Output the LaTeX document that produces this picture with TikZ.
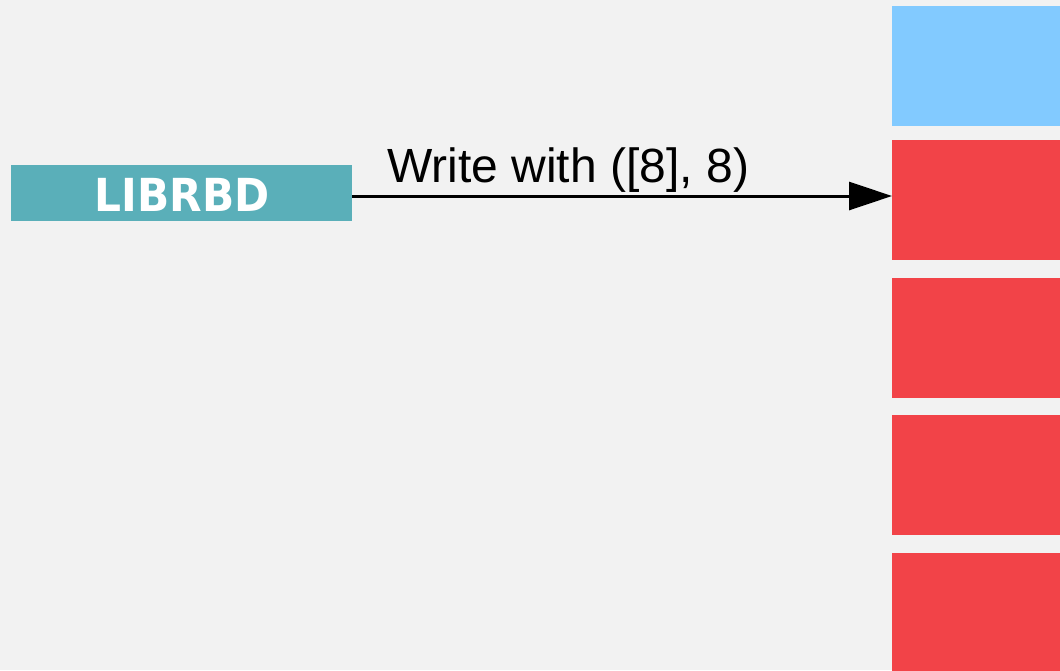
\documentclass[tikz,border=0pt]{standalone}
\usepackage{fontspec}
\setmainfont{Liberation Sans}
\newfontfamily\labfont{DejaVu Sans}
\usetikzlibrary{arrows.meta}
\definecolor{bgc}{HTML}{F2F2F2}
\definecolor{tealc}{HTML}{5AAFB9}
\definecolor{bluec}{HTML}{82CAFF}
\definecolor{redc}{HTML}{F24348}
\begin{document}
\begin{tikzpicture}[x=1pt,y=-1pt,
  block/.style={draw=none,inner sep=0pt,outer sep=0pt,anchor=north west,minimum width=180pt},
  obj/.style={block,fill=redc,minimum height=119.5pt},
  conn/.style={line width=3pt,-{Triangle[length=43pt,width=28pt]}}]
\useasboundingbox (0,0) rectangle (1060,670);
\fill[bgc] (0,0) rectangle (1060,670);
\clip (0,0) rectangle (1060,670);
\node[draw=none,fill=tealc,inner sep=0pt,outer sep=0pt,anchor=north west,minimum width=341pt,minimum height=56pt] (lib) at (11,165) {};
\node[anchor=base,inner sep=0pt,text=white] (libt) at (182,211) {\scalebox{0.93}[1]{\fontsize{45.5}{50}\labfont\bfseries LIBRBD}};
\node[block,fill=bluec,minimum height=119.5pt] (b0) at (892,6) {};
\node[obj] (r1) at (892,140) {};
\node[obj] (r2) at (892,278) {};
\node[obj] (r3) at (892,415) {};
\node[obj] (r4) at (892,553) {};
\draw[conn] ([yshift=-3pt]lib.east) coordinate (s) -- (s -| r1.west);
\node[anchor=base west,inner sep=0pt] (lbl) at (387,182.5) {\fontsize{48}{55}\selectfont Write with ([8], 8)};
\end{tikzpicture}
\end{document}
